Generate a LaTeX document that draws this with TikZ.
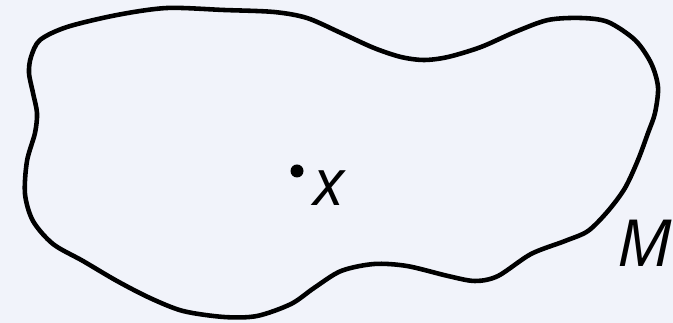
\documentclass[tikz,border=0pt]{standalone}
\usepackage{fontspec}
\setmainfont{Open Sans}
\usepackage{tikz}

\definecolor{slidebg}{RGB}{241,243,250}

\begin{document}
\begin{tikzpicture}[x=0.02cm, y=-0.02cm, every node/.style={font=\fontsize{37}{42}\selectfont\itshape, inner sep=0pt}]
  \fill[slidebg] (0,0) rectangle (673,323);
  \useasboundingbox (0,0) rectangle (673,323);
  % boundary of M
  \draw[line width=2.6pt, line join=round] plot[smooth cycle, tension=0.5] coordinates {
    (40,40) (67,27) (117,15) (167,8) (224,10) (274,12) (307,18) (341,33)
    (374,48) (401,57) (424,60) (448,57) (481,47) (515,32) (548,20) (581,18)
    (608,22) (635,40) (651,63) (658,87) (655,113) (648,133) (638,160)
    (625,188) (608,211) (588,231) (565,241) (531,254) (498,276) (475,281)
    (448,276) (407,266) (374,264) (341,271) (314,288) (291,304) (257,316)
    (224,317) (183,311) (150,298) (117,281) (83,261) (53,244) (33,221)
    (25,194) (27,161) (35,133) (37,113) (33,93) (29,73) (31,57)};
  \coordinate (pt) at (297,171);
  \fill (pt) circle (6.5);
  \node (xlabel) at (329,188) {x};
  \node (mlabel) at (645,243) {M};
\end{tikzpicture}
\end{document}
